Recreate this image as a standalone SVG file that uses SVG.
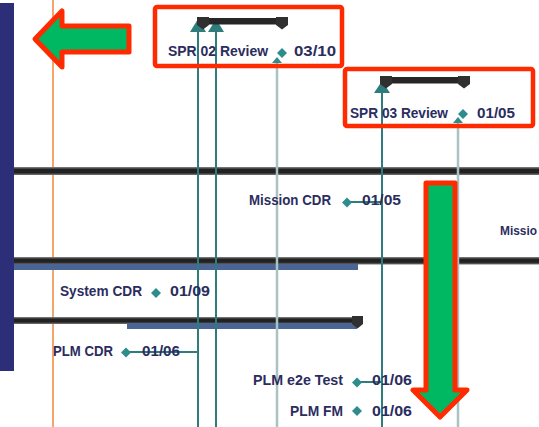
<svg xmlns="http://www.w3.org/2000/svg" width="539" height="427" viewBox="0 0 539 427">
<defs>
<style>
.t{font-family:"Liberation Sans",Arial,sans-serif;font-weight:bold;font-size:14px;fill:#2B2D5E}
.teal{stroke:#2E7C7C;stroke-width:2;fill:none}
.light{stroke:#A9C3C3;stroke-width:2.5;fill:none}
.dia{fill:#2F8C8C}
.bar{fill:#262626}
.blue{fill:#4A6593}
.cap{fill:#303030}
.red{fill:#00B862;stroke:#FF2A00;stroke-width:5;stroke-linejoin:round}
.box{fill:none;stroke:#FF2A00;stroke-width:4.5}
</style>
<linearGradient id="hb" x1="0" y1="0" x2="0" y2="1">
<stop offset="0" stop-color="#8a8a8a"/>
<stop offset="0.3" stop-color="#222"/>
<stop offset="0.7" stop-color="#222"/>
<stop offset="1" stop-color="#777"/>
</linearGradient>
</defs>
<rect width="539" height="427" fill="#fff"/>
<rect id="sidebar" x="0" y="3" width="14" height="368" fill="#2C2F78"/>
<line id="today" x1="53" y1="0" x2="53" y2="427" stroke="#F4A66A" stroke-width="2"/>

<g id="bars">
<rect x="14" y="167" width="525" height="8" fill="url(#hb)"/>
<rect x="14" y="257" width="525" height="7.5" fill="url(#hb)"/>
<rect class="blue" x="14" y="264" width="344" height="6"/>
<rect x="14" y="317" width="349" height="7" fill="url(#hb)"/>
<rect class="blue" x="127" y="323" width="230" height="6"/>
<path class="cap" d="M352,316 h11 v8 l-5.5,4.5 l-5.5,-4.5 z"/>
</g>

<g id="connectors">
<line class="teal" x1="198" y1="30" x2="198" y2="427"/>
<path d="M198,19 L206,32 L190,32 Z" fill="#2E7C7C"/>
<line class="teal" x1="216" y1="30" x2="216" y2="427"/>
<path d="M216,19 L224,32 L208,32 Z" fill="#2E7C7C"/>
<line class="teal" x1="382" y1="90" x2="382" y2="427"/>
<path d="M382,81 L390,93 L374,93 Z" fill="#2E7C7C"/>
<line class="light" x1="277" y1="62" x2="277" y2="427"/>
<path d="M277,57 L282,63 L272,63 Z" fill="#2F8C8C"/>
<line class="light" x1="458" y1="122" x2="458" y2="427"/>
<path d="M458,117 L463,123 L453,123 Z" fill="#2F8C8C"/>
<line class="teal" x1="347" y1="202" x2="382" y2="202"/>
<line class="teal" x1="126" y1="352" x2="198" y2="352"/>
<line class="teal" x1="357" y1="382" x2="382" y2="382"/>
</g>

<g id="spr02">
<rect class="bar" x="197" y="18" width="91" height="6.5"/>
<path class="cap" d="M197,17 h12 v8 l-6,4.5 l-6,-4.5 z"/>
<path class="cap" d="M276,17 h12 v8 l-6,4.5 l-6,-4.5 z"/>
<text class="t" x="168" y="56" textLength="100" lengthAdjust="spacingAndGlyphs">SPR 02 Review</text>
<path class="dia" d="M282,48 l5,5 l-5,5 l-5,-5 z"/>
<text class="t" x="294" y="56" textLength="42" lengthAdjust="spacingAndGlyphs">03/10</text>
</g>

<g id="spr03">
<rect class="bar" x="380" y="77" width="90" height="6.5"/>
<path class="cap" d="M380,76 h12 v8 l-6,4.5 l-6,-4.5 z"/>
<path class="cap" d="M458,76 h12 v8 l-6,4.5 l-6,-4.5 z"/>
<text class="t" x="350" y="118" textLength="98" lengthAdjust="spacingAndGlyphs">SPR 03 Review</text>
<path class="dia" d="M463,109 l5,5 l-5,5 l-5,-5 z"/>
<text class="t" x="477" y="118" textLength="38" lengthAdjust="spacingAndGlyphs">01/05</text>
</g>

<g id="missioncdr">
<text class="t" x="249" y="205" textLength="82" lengthAdjust="spacingAndGlyphs">Mission CDR</text>
<path class="dia" d="M347,197.5 l5,5 l-5,5 l-5,-5 z"/>
<text class="t" x="362" y="205" textLength="39" lengthAdjust="spacingAndGlyphs">01/05</text>
</g>

<g id="mission2">
<text class="t" x="500" y="235" style="font-size:12px" textLength="37" lengthAdjust="spacingAndGlyphs">Missio</text>
</g>

<g id="systemcdr">
<text class="t" x="60" y="296" textLength="82" lengthAdjust="spacingAndGlyphs">System CDR</text>
<path class="dia" d="M156,288 l5,5 l-5,5 l-5,-5 z"/>
<text class="t" x="170" y="296" textLength="40" lengthAdjust="spacingAndGlyphs">01/09</text>
</g>

<g id="plmcdr">
<text class="t" x="53" y="356" textLength="60" lengthAdjust="spacingAndGlyphs">PLM CDR</text>
<path class="dia" d="M126,347.5 l5,5 l-5,5 l-5,-5 z"/>
<text class="t" x="142" y="356" textLength="38" lengthAdjust="spacingAndGlyphs">01/06</text>
</g>

<g id="plme2e">
<text class="t" x="253" y="385" textLength="90" lengthAdjust="spacingAndGlyphs">PLM e2e Test</text>
<path class="dia" d="M357,377.5 l5,5 l-5,5 l-5,-5 z"/>
<text class="t" x="372" y="385" textLength="40" lengthAdjust="spacingAndGlyphs">01/06</text>
</g>

<g id="plmfm">
<text class="t" x="290" y="416" textLength="53" lengthAdjust="spacingAndGlyphs">PLM FM</text>
<path class="dia" d="M357,406 l5,5 l-5,5 l-5,-5 z"/>
<text class="t" x="372" y="416" textLength="40" lengthAdjust="spacingAndGlyphs">01/06</text>
</g>

<g id="highlights">
<rect class="box" x="155" y="7" width="187" height="59" rx="2"/>
<rect class="box" x="345" y="69" width="188" height="57" rx="2"/>
<path id="arrow-left" class="red" d="M35,39 L62,11 L62,26 L129,26 L129,52 L62,52 L62,67 Z"/>
<path id="arrow-down" class="red" d="M426,183 L455,183 L455,390 L467,390 L440,417 L413,390 L426,390 Z"/>
</g>
</svg>
